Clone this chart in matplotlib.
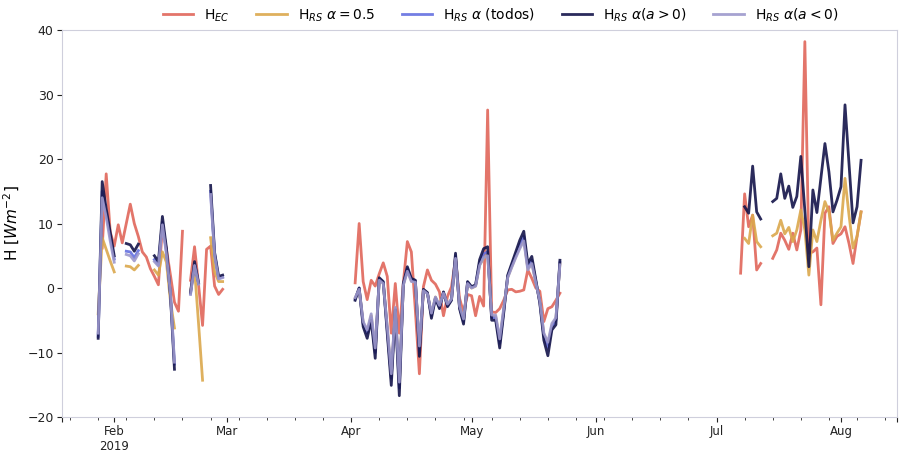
import numpy as np
import pandas as pd
import matplotlib
matplotlib.use('Agg')
import matplotlib.pyplot as plt

nan = np.nan

# daily span of the plot and start dates of each measurement campaign
first_day = '2019-01-19'
last_day = '2019-08-15'
left_start = '2019-01-28'
mid_start = '2019-04-02'
right_start = '2019-07-07'

# H_EC, eddy covariance
ec_left = [nan, 6.2, 17.7, 8.7,
           6.5, 9.8, 7.0, 10.0, 13.0, 10.0, 8.0, 5.6, 4.8, 3.0,
           1.8, 0.5, 9.5, 6.0, 2.0, -2.2, -3.6, 8.8, nan, 1.2,
           6.4, 0.5, -5.8, 6.0, 6.5, 0.3, -1.0, -0.2]
ec_mid = [0.8, 10.0, 1.0, -1.8, 1.2, 0.3, 2.2, 3.9, 1.8, -7.0,
          0.7, -7.0, 0.8, 7.2, 5.6, -3.5, -13.3, 0.2, 2.8, 1.2,
          0.6, -0.6, -4.3, -1.3, 0.2, 4.5, -1.6, -3.8, -1.0,
          -1.2, -4.3, -1.3, -2.8, 27.6, -3.7, -3.8, -3.2, -1.9, -0.3,
          -0.2, -0.6, -0.5, -0.3, 2.8, 1.5, 0.0, -0.5, -5.2, -3.2,
          -2.9, -1.9, -0.8]
ec_right = [2.3, 14.6, 9.5, 11.3, 2.8, 3.8, nan, nan,
            4.6, 5.9, 8.5, 7.4, 6.0, 8.5, 5.9, 9.0, 38.2, 5.4,
            5.6, 6.2, -2.6, 11.6, 12.6, 6.9, 8.0,
            8.4, 9.5, 6.9, 3.8, 8.0, 11.8]

# H_RS, alpha = 0.5
rs05_left = [-4.0, 7.8, 6.0, 4.2,
             2.5, nan, nan, 3.4, 3.3, 2.8, 3.5, nan, nan, nan,
             2.8, 2.0, 5.6, 4.0, -2.0, -6.2, nan, nan, nan, -0.5,
             3.0, -5.5, -14.3, nan, 7.8, 2.5, 1.0, 1.0]
rs05_mid = [-1.6, -0.1, -5.4, -6.8, -4.3, -9.7, 1.3, 0.8, -6.2, -13.7,
            -3.1, -15.0, 0.5, 2.8, 1.1, 1.0, -9.4, -0.3, -0.8, -4.1,
            -1.4, -2.8, -0.7, -2.6, -1.7, 4.8, -2.9, -5.0, 0.8,
            0.0, 0.3, 3.6, 4.6, 5.3, -4.4, -4.4, -8.2, -3.4, 1.7,
            3.3, 4.9, 6.4, 7.6, 3.0, 4.0, 0.9, -2.1, -7.2, -8.8,
            -5.8, -4.8, 3.8]
rs05_right = [nan, 7.7, 6.9, 11.3, 7.2, 6.4, nan, nan,
              8.1, 8.5, 10.5, 8.4, 9.4, 7.2, 9.0, 12.1, 9.0, 2.0,
              9.0, 7.2, 10.5, 13.4, 11.8, 7.4, 8.5,
              9.5, 17.0, 11.3, 6.2, 8.0, 11.8]

# H_RS, alpha from all cases
todos_left = [-7.5, 15.0, 11.5, 8.0,
              4.5, nan, nan, 5.7, 5.6, 4.7, 5.8, nan, nan, nan,
              4.4, 3.6, 10.2, 5.6, -1.0, -11.8, nan, nan, nan, -0.9,
              3.7, 0.7, nan, nan, 15.0, 5.3, 1.5, 1.7]
todos_mid = [-1.7, 0.0, -5.6, -7.0, -4.6, -10.0, 1.4, 0.9, -6.5, -14.0,
             -3.2, -15.5, 0.6, 3.0, 1.3, 1.1, -9.8, -0.3, -0.8, -4.3,
             -1.5, -3.0, -0.7, -2.7, -1.8, 5.0, -3.0, -5.2, 0.9,
             0.1, 0.4, 3.9, 5.3, 5.6, -4.6, -4.6, -8.6, -3.6, 1.8,
             3.5, 5.1, 6.7, 8.0, 3.2, 4.3, 1.0, -2.2, -7.5, -9.2,
             -6.0, -5.0, 4.0]

# H_RS, alpha for a > 0
pos_left = [-7.8, 16.5, 12.3, 8.6,
            5.0, nan, nan, 6.9, 6.7, 5.7, 6.8, nan, nan, nan,
            5.0, 4.1, 11.1, 6.2, -1.2, -12.6, nan, nan, nan, -0.7,
            4.1, 0.8, nan, nan, 15.9, 5.5, 1.8, 2.0]
pos_mid = [-1.9, 0.0, -6.0, -7.8, -5.0, -10.9, 1.6, 1.0, -7.0, -15.1,
           -3.4, -16.7, 0.7, 3.3, 1.5, 1.2, -10.6, -0.2, -0.7, -4.7,
           -1.6, -3.2, -0.6, -2.9, -1.9, 5.4, -3.2, -5.6, 1.0,
           0.2, 0.5, 4.4, 6.1, 6.4, -5.0, -5.0, -9.3, -3.9, 2.0,
           3.8, 5.6, 7.4, 8.8, 3.8, 4.9, 1.2, -2.4, -8.1, -10.5,
           -6.5, -5.7, 4.3]
pos_right = [nan, 12.6, 11.6, 18.9, 11.8, 10.7, nan, nan,
             13.4, 13.9, 17.7, 13.9, 15.8, 12.5, 14.2, 20.4, 12.0, 3.3,
             15.2, 11.7, 17.0, 22.4, 18.0, 11.8, 13.6,
             15.7, 28.4, 19.3, 10.1, 12.6, 19.8]

# H_RS, alpha for a < 0
neg_left = [-7.0, 14.0, 11.0, 7.3,
            4.0, nan, nan, 5.2, 5.0, 4.2, 5.3, nan, nan, nan,
            4.1, 3.4, 9.8, 5.2, -0.8, -11.5, nan, nan, nan, -1.0,
            3.5, 0.6, nan, nan, 14.5, 5.0, 1.4, 1.6]
neg_mid = [-1.5, -0.2, -5.2, -6.5, -4.0, -9.3, 1.2, 0.7, -6.0, -13.3,
           -3.0, -14.6, 0.4, 2.6, 1.0, 0.9, -9.0, -0.4, -0.9, -3.9,
           -1.4, -2.7, -0.8, -2.5, -1.7, 4.6, -2.8, -4.8, 0.7,
           0.0, 0.3, 3.5, 4.7, 5.0, -4.2, -4.2, -7.9, -3.2, 1.6,
           3.2, 4.7, 6.1, 7.3, 2.8, 3.8, 0.8, -2.0, -7.0, -8.4,
           -5.5, -4.6, 3.6]

labels = ['H$_{EC}$', r'H$_{RS}$ $\alpha = 0.5$', r'H$_{RS}$ $\alpha$ (todos)',
          r'H$_{RS}$ $\alpha(a > 0)$', r'H$_{RS}$ $\alpha(a < 0)$']
colors = ['#e0665a', '#dba84c', '#6470e0', '#14144a', '#9c98cc']

days = pd.date_range(first_day, last_day, freq='D')


def daily(*segments):
    s = pd.Series(np.nan, index=days)
    for start, vals in segments:
        idx = pd.date_range(start, periods=len(vals), freq='D')
        s[idx] = vals
    return s


df = pd.DataFrame({
    labels[0]: daily((left_start, ec_left), (mid_start, ec_mid), (right_start, ec_right)),
    labels[1]: daily((left_start, rs05_left), (mid_start, rs05_mid), (right_start, rs05_right)),
    labels[2]: daily((left_start, todos_left), (mid_start, todos_mid)),
    labels[3]: daily((left_start, pos_left), (mid_start, pos_mid), (right_start, pos_right)),
    labels[4]: daily((left_start, neg_left), (mid_start, neg_mid)),
})

fig = plt.figure(figsize=(8.99, 4.51), dpi=100)
ax = fig.add_axes([0.069, 0.0754, 0.929, 0.858])
df.plot(ax=ax, color=colors, lw=2, alpha=0.9, legend=False)

ax.set_ylim(-20, 40)
ax.set_yticks(range(-20, 41, 10))
ax.set_xlabel('')
ax.set_ylabel('H [$Wm^{-2}$]', fontsize=11, labelpad=4)
ax.tick_params(axis='y', labelsize=9, colors='#222222', pad=2.5)
ax.tick_params(axis='x', which='both', labelsize=8.5, colors='#222222', pad=2)
for sp in ax.spines.values():
    sp.set_color('#cfcfdc')

ax.legend(loc='lower center', bbox_to_anchor=(0.525, 0.995), ncol=5,
          frameon=False, fontsize=10, handlelength=2.2, columnspacing=1.9,
          borderaxespad=0.2)

fig.savefig('out.png', dpi=100)
